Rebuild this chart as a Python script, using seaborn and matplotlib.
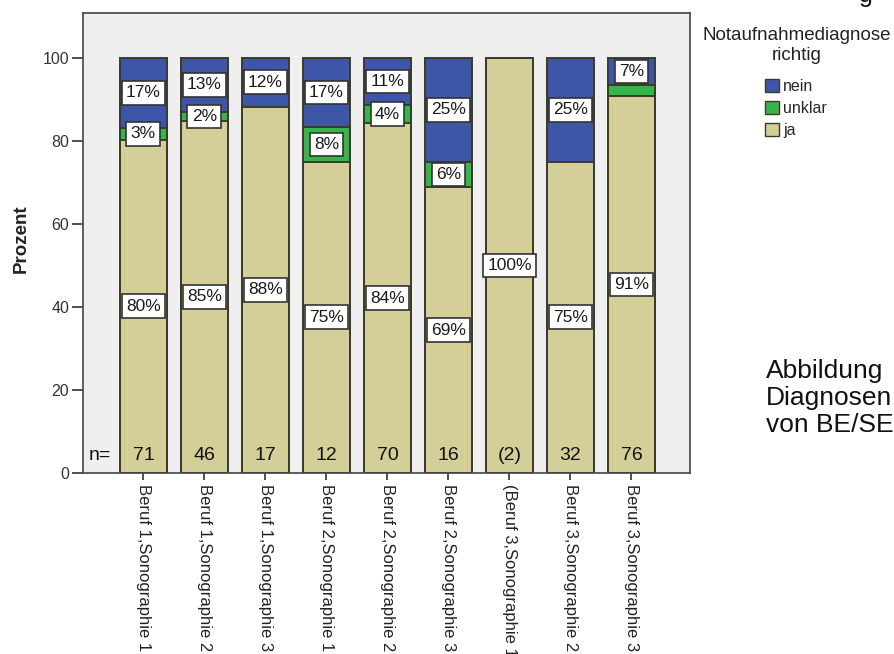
import matplotlib
matplotlib.use("Agg")
import matplotlib.pyplot as plt
from matplotlib.patches import Patch
import seaborn as sns
import pandas as pd
import numpy as np

# Gruppen (Beruf x Sonographie) und Fallzahlen
groups = ["Beruf 1,Sonographie 1", "Beruf 1,Sonographie 2", "Beruf 1,Sonographie 3",
          "Beruf 2,Sonographie 1", "Beruf 2,Sonographie 2", "Beruf 2,Sonographie 3",
          "(Beruf 3,Sonographie 1)", "Beruf 3,Sonographie 2", "Beruf 3,Sonographie 3"]
n_labels = ["71", "46", "17", "12", "70", "16", "(2)", "32", "76"]

# Anteile in Prozent je Antwortkategorie
ja = [80.3, 84.8, 88.2, 75.0, 84.3, 68.8, 100.0, 75.0, 90.8]
unklar = [2.8, 2.2, 0.0, 8.3, 4.3, 6.2, 0.0, 0.0, 2.6]
nein = [16.9, 13.0, 11.8, 16.7, 11.4, 25.0, 0.0, 25.0, 6.6]
# Beschriftung der unklar-Segmente (letzte Gruppe ohne Wert)
unklar_shown = [True, True, False, True, True, True, False, False, False]

col_nein = "#3E56A8"
col_unklar = "#35B54A"
col_ja = "#D4CF98"
edge = "#3b3a2c"

sns.set_theme(style="white")
plt.rcParams["font.family"] = ["Liberation Sans", "DejaVu Sans"]

df = pd.DataFrame({"gruppe": groups, "ja": ja, "unklar": unklar, "nein": nein})
df["ja_unklar"] = df["ja"] + df["unklar"]
df["gesamt"] = df["ja_unklar"] + df["nein"]

fig = plt.figure(figsize=(8.94, 6.54), dpi=100)
ax = fig.add_axes([83 / 894, 1 - 473 / 654, (690 - 83) / 894, (473 - 13) / 654])
ax.set_facecolor("#EFEFEF")

bw = 0.77
common = dict(x="gruppe", order=groups, width=bw, edgecolor=edge, linewidth=1.4, ax=ax)
sns.barplot(data=df, y="gesamt", color=col_nein, saturation=1, **common)
sns.barplot(data=df, y="ja_unklar", color=col_unklar, saturation=1, **common)
sns.barplot(data=df, y="ja", color=col_ja, saturation=1, **common)

box = dict(boxstyle="square,pad=0.25", facecolor="white", edgecolor="#333333", linewidth=1.2)
lbl = dict(ha="center", va="center", fontsize=12.5, color="#1a1a1a", bbox=box, zorder=5)
for i in range(len(groups)):
    if ja[i] > 0:
        ax.text(i, ja[i] / 2, f"{ja[i]:.0f}%", **lbl)
    if unklar[i] > 0 and unklar_shown[i]:
        ax.text(i, ja[i] + unklar[i] / 2, f"{unklar[i]:.0f}%", **lbl)
    if nein[i] > 0:
        ax.text(i, ja[i] + unklar[i] + nein[i] / 2, f"{nein[i]:.0f}%", **lbl)
    ax.text(i, 4.3, n_labels[i], ha="center", va="center", fontsize=14, color="#111111", zorder=5)
ax.text(-0.72, 4.3, "n=", ha="center", va="center", fontsize=14, color="#111111", zorder=5)

ax.set_xlim(-0.99, 8.96)
ax.set_ylim(0, 110.8)
ax.set_yticks([0, 20, 40, 60, 80, 100])
ax.tick_params(axis="y", length=8, width=1.2, color="#333333", labelsize=11.5,
               labelcolor="#333333", pad=2, left=True)
ax.tick_params(axis="x", length=5, width=1.2, color="#333333", labelsize=12,
               labelcolor="#222222", pad=3, bottom=True)
ax.set_xticks(range(len(groups)))
ax.set_xticklabels(groups, rotation=270, ha="center", va="top")
ax.set_xlabel("")
ax.set_ylabel("Prozent", fontsize=13.5, fontweight="bold", color="#222222")
ax.yaxis.set_label_coords(-0.087, 0.51)
for s in ax.spines.values():
    s.set_visible(True)
    s.set_color("#444444")
    s.set_linewidth(1.2)

# Legende: Titel und Einträge getrennt gesetzt
fig.text(797 / 894, 1 - 35 / 654, "Notaufnahmediagnose", fontsize=13.5, ha="center",
         va="center", color="#222222")
fig.text(797 / 894, 1 - 55 / 654, "richtig", fontsize=13.5, ha="center",
         va="center", color="#222222")
handles = [Patch(facecolor=col_nein, edgecolor=edge, label="nein"),
           Patch(facecolor=col_unklar, edgecolor=edge, label="unklar"),
           Patch(facecolor=col_ja, edgecolor=edge, label="ja")]
fig.legend(handles=handles, loc="upper left", bbox_to_anchor=(765 / 894, 1 - 79 / 654),
           frameon=False, fontsize=11.5, handlelength=0.85, handleheight=0.85,
           handletextpad=0.3, labelspacing=0.45, borderpad=0, borderaxespad=0)

fig.text(866 / 894, 1 - 2 / 654, "g", fontsize=18, va="baseline", ha="center", color="#111111")
for k, line in enumerate(["Abbildung", "Diagnosen", "von BE/SE"]):
    fig.text(766 / 894, 1 - (371 + 27 * k) / 654, line, fontsize=19, va="center",
             ha="left", color="#111111")

fig.savefig("out.png", dpi=100)
